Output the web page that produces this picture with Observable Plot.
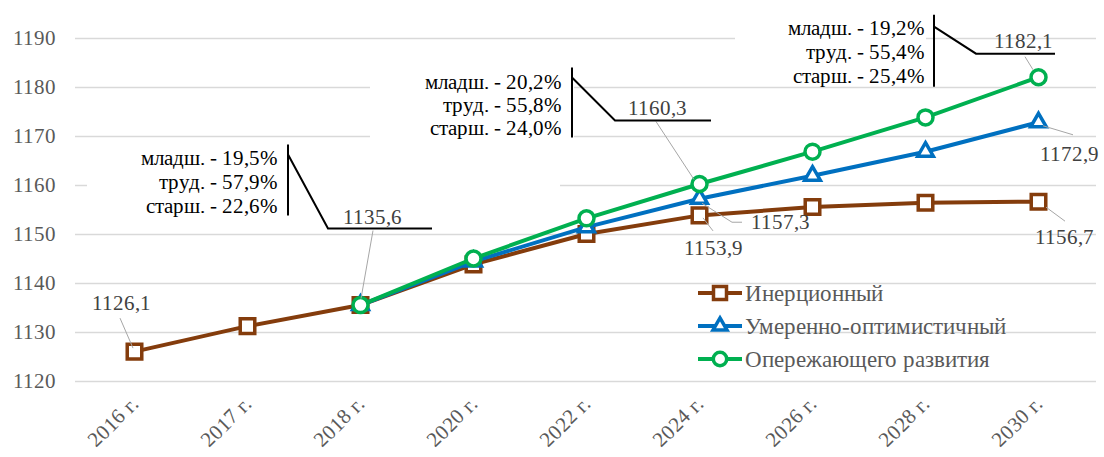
<!DOCTYPE html>
<html><head><meta charset="utf-8">
<script src="https://cdn.jsdelivr.net/npm/d3@7"></script>
<script src="https://cdn.jsdelivr.net/npm/@observablehq/plot@0.6"></script>
<style>
@font-face { font-family: "ChartSerif"; src: local("Liberation Serif"), local("LiberationSerif"), local("LiberationSerif-Regular"), local("Times New Roman"), local("Tinos"), local("DejaVu Serif"), local("DejaVuSerif"), local("Noto Serif"), local("FreeSerif"); }
body{margin:0;background:#fff;} #chart{width:1104px;height:457px;}
#chart svg, #chart svg text {font-family: "ChartSerif", "Liberation Serif", "DejaVu Serif", serif !important;}
</style>
</head><body><div id="chart"></div>
<script>
// ---- data ----
const years = ["2016 г.","2017 г.","2018 г.","2020 г.","2022 г.","2024 г.","2026 г.","2028 г.","2030 г."];
const inertial = [1126.1,1131.3,1135.6,1143.9,1150.1,1153.9,1155.6,1156.5,1156.7];
const moderate = [null,null,1135.6,1144.5,1151.5,1157.3,1162.0,1166.9,1172.9];
const advanced = [null,null,1135.6,1145.1,1153.3,1160.3,1166.9,1173.9,1182.1];
const seriesNames = ["Инерционный","Умеренно-оптимистичный","Опережающего развития"];
const yTicks = [1120,1130,1140,1150,1160,1170,1180,1190];
const structure2018 = ["младш. - 19,5%","труд. - 57,9%","старш. - 22,6%"];
const structure2024 = ["младш. - 20,2%","труд. - 55,8%","старш. - 24,0%"];
const structure2030 = ["младш. - 19,2%","труд. - 55,4%","старш. - 25,4%"];
// labelled points: [series index, year index]
const labelled = [[0,0],[0,5],[1,5],[1,8],[0,8]];
const calloutPoints = [[0,2,structure2018],[2,5,structure2024],[2,8,structure2030]];

const FONT = "ChartSerif, Liberation Serif, DejaVu Serif, serif";
const colors = ["#843C0C","#0070C0","#00B050"];
const symbols = ["square","triangle","circle"];
const radii = [8.2,5.8,7.5];
const valuesBySeries = [inertial, moderate, advanced];
const fmt = v => v.toFixed(1).replace(".", ",");

const tidy = vals => years.map((year,i)=>({year, value: vals[i]})).filter(d => d.value != null);

// ---- layout of labels (pixel offsets from the labelled point) ----
const simpleLayout = [
  {label:[-13,-48], leader:[[-14,-33],[-1,-3]]},
  {label:[14,33], leader:[[14,16],[4,3]]},
  {label:[81,23], leader:[[43,24],[33,24],[3,5]]},
  {label:[31,32], leader:[[5,4],[35,13]]},
  {label:[26,35], leader:[[8,6],[27,20]]}
];
const calloutLayout = [
  {rect:[-273,-165,200,-80], textX:-82, textY:[-147,-123,-99], bar:[-72,-160,-89],
   poly:[[-72,-150],[-32,-76],[72,-76]], label:[12,-88], leader:[[13,-74],[1,-6]]},
  {rect:[-329,-122,-125,-44], textX:-137, textY:[-102,-79,-56], bar:[-127,-116,-46],
   poly:[[-127,-106],[-84,-63],[12,-63]], label:[-42,-76], leader:[[-43,-62],[-5,-4]]},
  {rect:[-303,-67,-112,3], textX:-113, textY:[-49,-25,-1], bar:[-104,-62,10],
   poly:[[-104,-50],[-62,-23],[17,-23]], label:[-15,-36], leader:[[-13,-20],[-5,-7]]}
];

function boxes(index, scales) {
  const g = d3.create("svg:g");
  calloutPoints.forEach(([s,i], k) => {
    const L = calloutLayout[k];
    const x0 = scales.x(years[i]), y0 = scales.y(valuesBySeries[s][i]);
    g.append("rect").attr("x", x0+L.rect[0]).attr("y", y0+L.rect[1])
      .attr("width", L.rect[2]-L.rect[0]).attr("height", L.rect[3]-L.rect[1]).attr("fill","white");
  });
  return g.node();
}

function annotations(index, scales) {
  const g = d3.create("svg:g").attr("font-family", FONT);
  const line = d3.line();
  labelled.forEach(([s,i], k) => {
    const L = simpleLayout[k];
    const v = valuesBySeries[s][i];
    const x0 = scales.x(years[i]), y0 = scales.y(v);
    g.append("path").attr("d", line(L.leader.map(([dx,dy])=>[x0+dx,y0+dy])))
      .attr("fill","none").attr("stroke","#a6a6a6").attr("stroke-width",1);
    g.append("text").attr("x", x0+L.label[0]).attr("y", y0+L.label[1]).attr("dy","0.35em")
      .attr("text-anchor","middle").attr("font-size",21).attr("fill","#404040").text(fmt(v));
  });
  calloutPoints.forEach(([s,i,lines], k) => {
    const L = calloutLayout[k];
    const v = valuesBySeries[s][i];
    const x0 = scales.x(years[i]), y0 = scales.y(v);
    g.append("path").attr("d", line(L.leader.map(([dx,dy])=>[x0+dx,y0+dy])))
      .attr("fill","none").attr("stroke","#a6a6a6").attr("stroke-width",1);
    g.append("line").attr("x1",x0+L.bar[0]).attr("x2",x0+L.bar[0])
      .attr("y1",y0+L.bar[1]).attr("y2",y0+L.bar[2]).attr("stroke","black").attr("stroke-width",2);
    g.append("path").attr("d", line(L.poly.map(([dx,dy])=>[x0+dx,y0+dy])))
      .attr("fill","none").attr("stroke","black").attr("stroke-width",2);
    lines.forEach((t,j) => {
      g.append("text").attr("x", x0+L.textX).attr("y", y0+L.textY[j]).attr("dy","0.35em")
        .attr("text-anchor","end").attr("font-size",21).attr("fill","black").text(t);
    });
    g.append("text").attr("x", x0+L.label[0]).attr("y", y0+L.label[1]).attr("dy","0.35em")
      .attr("text-anchor","middle").attr("font-size",21).attr("fill","#404040").text(fmt(v));
  });
  return g.node();
}

function legend(index, scales, values, dimensions) {
  const g = d3.create("svg:g").attr("font-family", FONT);
  const lx = 698, rows = [293, 326, 359];
  seriesNames.forEach((name, k) => {
    const y = rows[k];
    g.append("line").attr("x1",lx).attr("x2",lx+44).attr("y1",y).attr("y2",y)
      .attr("stroke",colors[k]).attr("stroke-width",4);
    const sym = d3.symbol(k===0?d3.symbolSquare:k===1?d3.symbolTriangle:d3.symbolCircle, Math.PI*radii[k]*radii[k]*0.8)();
    g.append("path").attr("d", sym).attr("transform",`translate(${lx+22},${y})`)
      .attr("fill","white").attr("stroke",colors[k]).attr("stroke-width",3.5);
    g.append("text").attr("x", lx+47).attr("y", y).attr("dy","0.35em").attr("text-anchor","start")
      .attr("font-size",22.6).attr("fill","#595959").text(name);
  });
  return g.node();
}

const seriesMarks = [];
valuesBySeries.forEach((vals, k) => {
  const data = tidy(vals);
  seriesMarks.push(Plot.line(data, {x:"year", y:"value", stroke: colors[k], strokeWidth:4}));
  seriesMarks.push(Plot.dot(data, {x:"year", y:"value", symbol: () => symbols[k], r: radii[k],
    fill:"white", stroke: colors[k], strokeWidth:3.5}));
});

const chart = Plot.plot({
  width: 1104, height: 457,
  marginLeft: 75, marginRight: 8, marginTop: 38, marginBottom: 76,
  style: {fontFamily: FONT, background: "white", overflow: "visible"},
  x: {type: "point", domain: years, padding: 0.5, label: null},
  y: {domain: [1120, 1190], label: null},
  symbol: {type: "identity"},
  marks: [
    Plot.gridY(yTicks, {stroke:"#d9d9d9", strokeOpacity:1, strokeWidth:1.3}),
    boxes,
    Plot.axisY(yTicks, {tickSize:0, tickPadding:20, fontSize:20.5, color:"#595959", tickFormat: d => String(d), label: null}),
    Plot.axisX({tickRotate:-45, tickSize:0, tickPadding:19, fontSize:21, color:"#595959", label: null}),
    ...seriesMarks,
    annotations,
    legend
  ]
});
document.getElementById("chart").appendChild(chart);
</script>
</body></html>
